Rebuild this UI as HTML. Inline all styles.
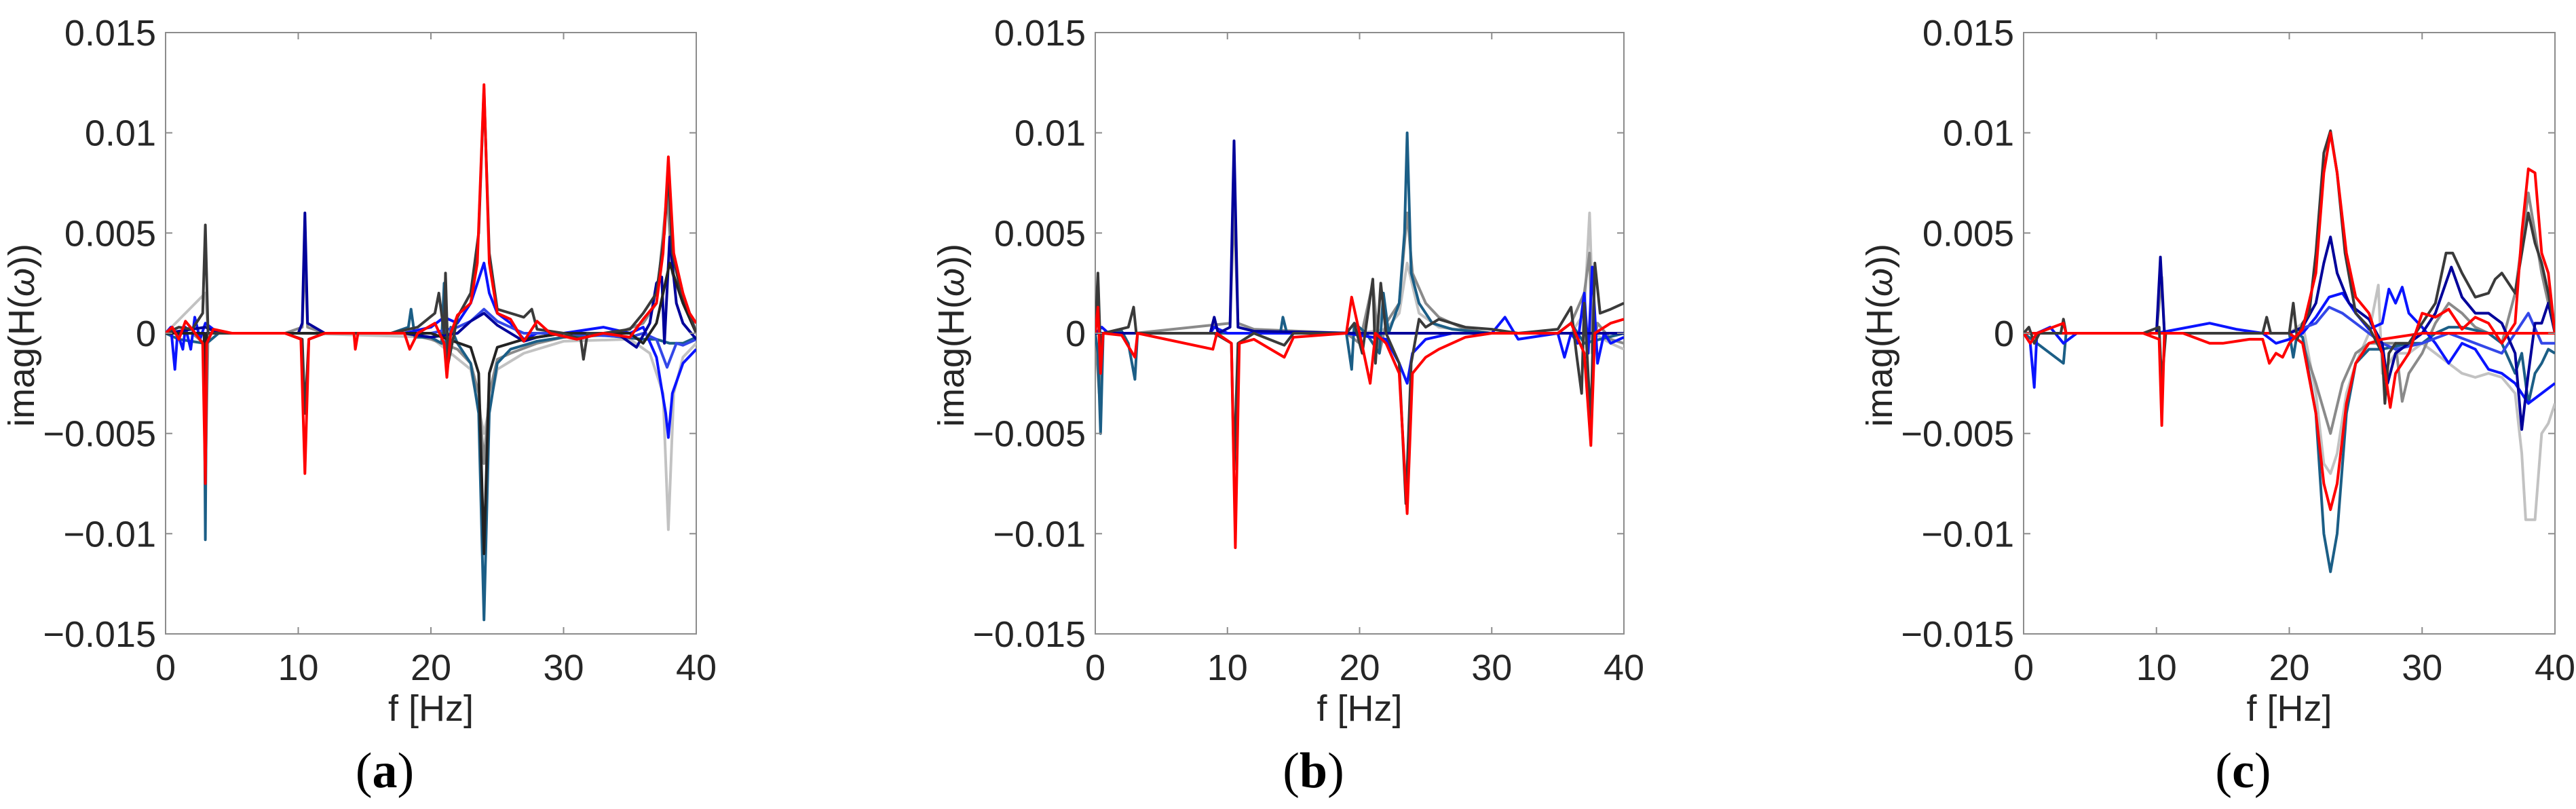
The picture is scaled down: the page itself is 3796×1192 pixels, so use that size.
<!DOCTYPE html>
<html><head><meta charset="utf-8"><style>
html,body{margin:0;padding:0;background:#fff;}
svg{display:block;font-family:"Liberation Sans",sans-serif;}
</style></head><body>
<svg id="fig" width="3796" height="1192" viewBox="0 0 3796 1192" xmlns="http://www.w3.org/2000/svg"></svg>
<script>
// ---- shared axis data ----
const xTicks=[0,10,20,30,40];
const yTicks=[0.015,0.01,0.005,0,-0.005,-0.01,-0.015];
const yTickLabels=["0.015","0.01","0.005","0","\u22120.005","\u22120.01","\u22120.015"];
const panelLetters=["a","b","c"];
// series values: [frequency Hz, imag(H) x1e-3]
// ---- panel a ----
const aLight=[[0,0],[3,2],[3.2,0],[10,0],[20,-0.2],[23,-1.8],[24,-5],[25,-1.8],[27,-1],[30,-0.4],[35,-0.3],[36.5,-1],[37.5,-3],[37.9,-9.8],[38.3,-3],[39,-1.2],[40,-0.5]];
const aGray=[[0,0],[2,0],[2.9,-0.5],[3,-7.5],[3.2,0],[9,0],[10.3,0.3],[10.5,4],[10.7,0.3],[12,0],[18,0],[20,-0.3],[22,-0.8],[23,-1.5],[23.6,-3],[24,-6.5],[24.4,-3],[25,-1.3],[26,-1],[28,-0.5],[30,-0.2],[34,0],[36,0.5],[37,1.5],[37.8,7],[38.2,3],[39,1.5],[40,0]];
const aTeal=[[0,0],[1,-0.3],[2.9,-0.5],[3.0,-10.3],[3.1,-0.5],[4,0],[17,0],[18.3,0.3],[18.5,1.2],[18.8,-0.2],[20,-0.2],[20.8,-0.5],[21,2.5],[21.2,-1.8],[21.5,0.3],[22,-0.5],[23,-1.5],[23.6,-4],[24,-14.3],[24.4,-4],[25,-1.5],[26,-0.8],[28,-0.4],[30,-0.2],[33,-0.1],[36,-0.3],[37,-0.3],[38,-0.5],[39,-0.5],[40,-0.2]];
const aBlue=[[0,0],[0.4,0.3],[0.7,-1.8],[0.9,0],[1.3,-0.8],[1.5,0.3],[1.9,-0.8],[2.2,0.8],[2.6,-0.3],[3,0.5],[4,0],[10,0],[18,0],[20,0.3],[21,0.8],[22,0.5],[23,1.5],[23.5,2.5],[24,3.5],[24.4,2],[25,1],[26,0.5],[27,-0.3],[28,0],[30,0],[33,0.3],[35,0],[36,0.3],[37,-1.2],[37.7,-4],[37.9,-5.2],[38.2,-3],[39,-1.5],[40,-0.8]];
const aBlue2=[[0,0],[20,0],[22,0.3],[23,0.6],[24,1.2],[25,0.6],[27,0],[30,0],[35,-0.2],[36,0],[37,-0.3],[37.8,-1.7],[38.5,-0.5],[39,-0.6],[40,-0.3]];
const aNavy=[[0,0],[3,0.3],[4,0],[10,0],[10.3,0.5],[10.5,6],[10.7,0.5],[12,0],[18,0],[20,-0.2],[22,0],[23,0.6],[24,1],[25,0.4],[27,-0.4],[28,-0.2],[30,0],[34,0],[35.5,-0.7],[36.5,0.5],[37,2.5],[37.4,2.8],[37.6,-0.5],[38,4.8],[38.5,1.5],[39,0.5],[40,-0.3]];
const aDark=[[0,0],[2.9,0],[3,-4],[3.1,0],[10,0],[20,0],[23,-0.7],[23.6,-2],[24,-11],[24.4,-2],[25,-0.7],[27,-0.3],[30,0],[35,0],[36,-0.5],[37,0.5],[38,3.5],[39,1.5],[40,0]];
const aBlack=[[0,0],[1,0.3],[2,0.2],[2.8,1],[3.0,5.4],[3.2,0],[4,0],[9,0],[10.3,-0.3],[10.5,-4],[10.8,-0.3],[12,0],[17,0],[19,0.3],[20.3,1],[20.6,2],[21,0],[21.1,3],[21.3,-1.5],[22,0.8],[23,2],[23.6,5],[24,12.2],[24.4,4],[25,1.2],[27,0.8],[27.6,1.2],[28,0.2],[30,0],[31.3,-0.3],[31.5,-1.3],[31.8,0],[33,0],[35,0.2],[36,1],[37,2],[37.6,5],[37.9,8.1],[38.2,4],[38.8,2.2],[39.5,1],[40,0]];
const aRed=[[0,0],[0.5,0.3],[1,-0.3],[1.5,0.6],[2,0.2],[2.8,-0.5],[3.0,-7.5],[3.1,-0.5],[3.6,0.2],[5,0],[9,0],[10.2,-0.3],[10.5,-7],[10.8,-0.3],[12,0],[14.2,0],[14.3,-0.8],[14.5,0],[18,0],[18.4,-0.8],[19,0],[20.3,0.5],[21,-0.5],[21.2,-2.2],[21.5,0],[22,0.9],[23,1.5],[23.5,3.5],[24,12.4],[24.4,3.5],[25,1],[26,0.7],[27,-0.4],[28,0.6],[29,0],[31,-0.3],[33,0],[35,-0.2],[36,0.7],[37,1.5],[37.5,4],[37.9,8.8],[38.3,4],[39,2],[39.5,1],[40,0.5]];
// ---- panel b ----
const bLight=[[0,0],[20,0],[22,0.2],[23,1],[23.6,3.5],[24.5,1],[26,0.3],[30,0],[36,0],[37,1],[37.4,6],[37.7,0],[39,-0.5],[40,-0.8]];
const bGray=[[0,0],[0.3,-3],[0.5,0],[3,0],[10.2,0.5],[10.5,6.5],[10.8,0.5],[12,0.2],[19,0],[20,-0.5],[21,2.5],[21.5,-1],[22,0.5],[23,1.5],[23.6,6],[24,3],[25,1.5],[26,0.8],[28,0.2],[30,0],[35,0],[36,0.5],[37,2],[37.4,4],[37.6,-1],[38,0.5],[39,-0.3],[40,-0.5]];
const bTeal=[[0,0],[0.2,-1],[0.4,-5],[0.6,0],[2,0.1],[2.5,-0.5],[3,-2.3],[3.2,0],[9,0],[14,0],[14.2,0.8],[14.5,0],[19,0],[19.4,-1.8],[19.6,0.5],[20.5,0],[21.5,-1],[21.8,2],[22.2,0],[23,1.5],[23.4,5],[23.6,10],[23.9,3],[24.5,1.5],[25.5,0.5],[27,0.2],[30,0],[35,0],[36,0.5],[37,-0.5],[40,0]];
const bBlue=[[0,0],[0.5,0.3],[1,0],[3,0],[8.7,0],[9,0.3],[10,0],[14,0],[19,0],[22,-0.3],[23,-1.5],[23.6,-2.5],[24,-1],[25,-0.3],[27,0],[30,0],[31,0.8],[32,-0.3],[35,0],[35.5,-1.2],[36,0],[36.5,-0.5],[37,2],[37.3,-1],[37.6,3.3],[38,-1.5],[38.5,0],[39,-0.5],[40,-0.2]];
const bNavy=[[0,0],[3,0],[8.7,0],[9,0.8],[9.3,0],[10.2,0.3],[10.5,9.6],[10.8,0.3],[12,0.1],[20,0],[23,0],[25,0],[30,0],[36,0],[40,0]];
const bBlack=[[0,0],[0.2,3],[0.4,-1],[0.6,0],[2.5,0.3],[2.9,1.3],[3.1,0],[9,0],[10.3,-0.5],[10.5,-6.8],[10.8,-0.5],[12,0],[14.3,-0.6],[15,0],[19,0],[19.6,0.5],[20.2,-1],[21,2.7],[21.2,-1.5],[21.6,2.5],[22,0],[23,-1.5],[23.5,-8.5],[23.9,-1.5],[24.5,0.7],[25,0.3],[26,0.7],[28,0.3],[30,0.2],[32,0],[35,0.2],[36,1.3],[36.4,-1],[36.8,-3],[37,1.5],[37.5,-4.5],[37.8,3.5],[38.2,1],[39,1.2],[40,1.5]];
const bRed=[[0,0],[0.2,1.3],[0.4,-2],[0.6,0],[2,-0.1],[3,-1.2],[3.2,0],[8.9,-0.8],[9.2,0],[10.3,-0.5],[10.6,-10.7],[10.9,-0.5],[12,-0.3],[14.3,-1.2],[15,-0.2],[19,0],[19.4,1.8],[20,0],[20.8,-2.5],[21.2,0],[22,-0.5],[23,-2],[23.6,-9],[24,-2],[25,-1.2],[26,-0.8],[28,-0.2],[30,0],[33,0],[35,0],[36,0.5],[37,-1],[37.5,-5.6],[37.8,0],[39,0.5],[40,0.7]];
// ---- panel c ----
const cLight=[[0,0],[20,0],[21,0.5],[22,-3],[22.6,-6.5],[23.1,-7],[23.6,-6],[24.3,-3],[25,-1.5],[26,0],[26.7,2.4],[27,-2],[28,-1],[29,-1],[30,-0.5],[31,-1],[32,-1.5],[33,-2],[34,-2.2],[35,-2],[36,-2.2],[37,-3],[37.5,-6],[37.8,-9.3],[38.5,-9.3],[39,-5],[39.5,-4.5],[40,-3.5]];
const cGray=[[0,0],[10,0],[10.4,2.8],[10.6,0],[20,0],[21,-0.5],[22,-2.5],[23.1,-5],[24,-2.5],[25,-1],[26,-0.5],[27,-0.5],[28,-0.5],[28.5,-3.4],[29,-2],[30,-1],[31,0.5],[32,1.5],[33,1],[34,0.3],[35,0],[36,-0.5],[37,2],[38,7],[38.5,5],[39,3],[40,0]];
const cTeal=[[0,0],[3,-1.5],[3.2,0],[10,0],[20,0],[20.3,-1.2],[20.6,0],[21,-0.2],[22,-4],[22.6,-10],[23.1,-11.9],[23.6,-10],[24.3,-4],[25,-1.5],[26,-0.8],[27,-0.8],[29,-0.5],[30,-0.5],[31,0],[32,0.3],[33,0.3],[35,0],[36,-0.5],[37,-2],[37.5,-1],[38,-3.5],[38.5,-2],[39,-1.5],[39.5,-0.8],[40,-1]];
const cBlue=[[0,0],[0.5,-0.5],[0.8,-2.7],[1,0],[2,0.3],[3,-0.5],[4,0],[10,0],[14,0.5],[16,0.2],[18,0],[19,-0.5],[20,-0.3],[21,0],[22,0.8],[23,1.8],[24,2],[25,1],[26,0.2],[27,0.5],[27.5,2.2],[28,1.5],[28.5,2.3],[29,1],[30,0.3],[31,-0.5],[32,-1.5],[33,-0.5],[34,-0.8],[35,-1.8],[36,-2],[37,-2.5],[38,-3.5],[39,-3],[40,-2.5]];
const cBlue2=[[0,0],[20,0],[22,0.5],[23,1.3],[24,1],[25,0.5],[27,-0.5],[28,-0.8],[30,-0.5],[32,0],[34,-0.5],[36,-1],[37,0],[38,1],[39,-0.5],[40,-0.5]];
const cNavy=[[0,0],[3,0],[10,0],[10.3,3.8],[10.6,0],[12,0],[20,0],[21,0.3],[22,1.5],[22.6,3.5],[23.1,4.8],[23.6,3],[24.5,1.5],[25,1.2],[26,0.7],[27,-0.5],[27.4,-2.5],[28,-1],[29,-0.5],[30,0],[31,1],[32.2,3.3],[33,1.8],[34,1],[35,1],[36,0.5],[37,-1],[37.5,-4.8],[38,-2],[38.5,0.5],[39,0.5],[39.5,1.5],[40,0]];
const cRedDown=[[0,0],[20,0],[21,-0.5],[22,-4],[22.6,-7.5],[23.1,-8.8],[23.6,-7.5],[24.3,-3.5],[25,-1.5],[26,-0.5],[27,-0.3],[30,0],[40,0]];
const cBlack=[[0,0],[0.4,0.3],[0.8,-0.5],[1.2,0],[2.8,0],[3,0.7],[3.2,0],[9,0],[10.2,0.3],[10.4,-2.5],[10.7,0],[12,0],[18,0],[18.3,0.8],[18.6,0],[20,0],[20.3,1.5],[20.6,-0.3],[21,0.5],[21.5,1],[22,4],[22.6,9],[23.1,10.1],[23.6,8],[24.2,4],[25,1],[26,0.3],[27,-1],[27.2,-3.5],[27.5,-1],[28,-0.5],[29,-0.5],[30,0.5],[31,1.5],[31.8,4],[32.3,4],[33,3],[34,1.8],[35,2],[35.5,2.7],[36,3],[37,2],[37.5,4],[38,6],[38.5,4.5],[39,3.5],[39.5,2],[40,0]];
const cRedUp=[[0,0],[0.5,-0.5],[1,0],[3,0.5],[3.2,0],[9,0],[10.2,-0.3],[10.4,-4.6],[10.6,0],[12,0],[14,-0.5],[15,-0.5],[17,-0.3],[18,-0.3],[18.5,-1.5],[19,-1],[19.5,-1.2],[20,-0.5],[21,0.2],[22,3],[22.6,8],[23.1,10],[23.6,8],[24.3,4],[25,1.8],[26,1],[27,-1],[27.6,-3.7],[28,-2],[29,-1],[30,1],[31,0.8],[32,1.2],[33,0.2],[34,0.8],[35,0.5],[36,-0.5],[37,0.5],[37.5,5],[38,8.2],[38.5,8],[39,4],[39.5,3],[40,0]];

const C={light:"#c2c2c2",gray:"#8a8a8a",teal:"#1b5e86",blue:"#0a14ff",blue2:"#3347e8",navy:"#00009a",dark:"#222",black:"#3a3a3a",red:"#ff0000"};
const panels=[
 {left:244,right:1026,series:[["light",aLight],["gray",aGray],["teal",aTeal],["blue",aBlue],["blue2",aBlue2],["navy",aNavy],["dark",aDark],["black",aBlack],["red",aRed]]},
 {left:1614,right:2393,series:[["light",bLight],["gray",bGray],["teal",bTeal],["blue",bBlue],["navy",bNavy],["black",bBlack],["red",bRed]]},
 {left:2982,right:3765,series:[["light",cLight],["gray",cGray],["teal",cTeal],["blue",cBlue],["blue2",cBlue2],["navy",cNavy],["red",cRedDown],["black",cBlack],["red",cRedUp]]}
];
const TOP=48,BOT=934,NS="http://www.w3.org/2000/svg";
const svg=document.getElementById('fig');
function mk(tag,attrs,parent){const e=document.createElementNS(NS,tag);for(const k in attrs)e.setAttribute(k,attrs[k]);parent.appendChild(e);return e;}
panels.forEach((p,pi)=>{
 const xs=f=>p.left+(f-0)/(40-0)*(p.right-p.left);
 const ys=v=>TOP+(0.015-v)/(0.03)*(BOT-TOP);
 const g=mk('g',{},svg);
 
 
 const box=mk('rect',{x:p.left,y:TOP,width:p.right-p.left,height:BOT-TOP,fill:'none',stroke:'#8c8c8c','stroke-width':2},g);
 
 
 const clip=mk('clipPath',{id:'clip'+pi},g);
 mk('rect',{x:p.left,y:TOP-2,width:p.right-p.left,height:BOT-TOP+4},clip);
 const sg=mk('g',{'clip-path':'url(#clip'+pi+')'},g);
 p.series.forEach(([col,data],si)=>{
  const d=data.map((pt,i)=>(i?'L':'M')+xs(pt[0]).toFixed(1)+','+ys(pt[1]*1e-3).toFixed(1)).join('');
  const path=mk('path',{d:d,fill:'none',stroke:C[col],'stroke-width':4,'stroke-linejoin':'round'},sg);
  
  
 });
 xTicks.forEach(t=>{
  const x=xs(t);
  mk('line',{x1:x,y1:BOT,x2:x,y2:BOT-10,stroke:'#8c8c8c','stroke-width':2},g);
  mk('line',{x1:x,y1:TOP,x2:x,y2:TOP+10,stroke:'#8c8c8c','stroke-width':2},g);
  const tx=mk('text',{x:x,y:1002,'font-size':54,'text-anchor':'middle',fill:'#262626'},g);
  tx.textContent=t;
  
  
 });
 yTicks.forEach((t,i)=>{
  const y=ys(t);
  mk('line',{x1:p.left,y1:y,x2:p.left+10,y2:y,stroke:'#8c8c8c','stroke-width':2},g);
  mk('line',{x1:p.right,y1:y,x2:p.right-10,y2:y,stroke:'#8c8c8c','stroke-width':2},g);
  const ty=mk('text',{x:p.left-14,y:y+19,'font-size':54,'text-anchor':'end',fill:'#262626'},g);
  ty.textContent=yTickLabels[i];
  
  
 });
 const cx=(p.left+p.right)/2;
 const xt=mk('text',{x:cx,y:1062,'font-size':54,'text-anchor':'middle',fill:'#262626'},g);
 xt.textContent='f [Hz]';
 
 
 const yx=p.left-194,yy=494;
 const yt=mk('text',{x:yx,y:yy,'font-size':54,'text-anchor':'middle',fill:'#262626',transform:'rotate(-90 '+yx+' '+yy+')'},g);
 yt.innerHTML='imag(H(<tspan font-style="italic">\u03c9</tspan>))';
 
 
 const lt=mk('text',{x:cx-68,y:1160,'font-size':74,'text-anchor':'middle',fill:'#000','font-family':'Liberation Serif, serif'},g);
 lt.innerHTML='(<tspan font-weight="bold">'+panelLetters[pi]+'</tspan>)';
 
 
});
</script>
</body></html>
